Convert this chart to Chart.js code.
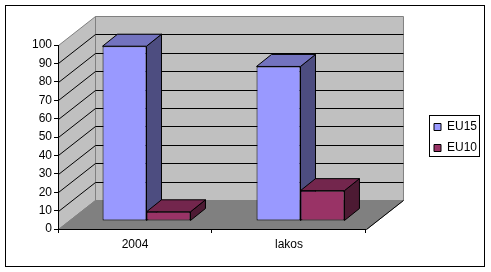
<!DOCTYPE html>
<html>
<head>
<meta charset="utf-8">
<style>
  html, body { margin: 0; padding: 0; background: #fff; }
  #wrap { position: relative; width: 491px; height: 272px; }
</style>
<script src="https://cdn.jsdelivr.net/npm/chart.js@4"></script>
</head>
<body>
<div id="wrap"><canvas id="chart" width="491" height="272"></canvas></div>
<script>
const categories = ['2004', 'lakos'];
const eu15 = [95, 84];
const eu10 = [5, 16.5];
const yTicks = [0, 10, 20, 30, 40, 50, 60, 70, 80, 90, 100];

// 3d look: depth of the box and of the bars, in pixels
const depthX = 37, depthY = 29;
const barShiftX = 11.5, barShiftY = 8;
const barDepthX = 15, barDepthY = 12;

const palette = [
  { front: '#9999ff', top: '#7373bf', side: '#4d4d80' },
  { front: '#993366', top: '#73264d', side: '#4d1a33' }
];

function poly(ctx, pts, fill, stroke) {
  ctx.beginPath();
  pts.forEach((p, i) => i ? ctx.lineTo(p[0], p[1]) : ctx.moveTo(p[0], p[1]));
  ctx.closePath();
  if (fill) { ctx.fillStyle = fill; ctx.fill(); }
  if (stroke) { ctx.strokeStyle = stroke; ctx.lineWidth = 1; ctx.stroke(); }
}

const box3d = {
  id: 'box3d',
  beforeDraw(chart) {
    const ctx = chart.ctx, a = chart.chartArea, y = chart.scales.y;
    ctx.save();
    ctx.fillStyle = '#fff';
    ctx.fillRect(0, 0, chart.width, chart.height);
    ctx.strokeStyle = '#000';
    ctx.lineWidth = 1;
    ctx.strokeRect(5.5, 5.5, 479, 261);

    const L = a.left + 0.5, R = a.right + 0.5, T = a.top + 0.5, B = a.bottom + 0.5;
    // walls and floor
    poly(ctx, [[L + depthX, T - depthY], [R + depthX, T - depthY], [R + depthX, B - depthY], [L + depthX, B - depthY]], '#c0c0c0', '#808080');
    poly(ctx, [[L, T], [L + depthX, T - depthY], [L + depthX, B - depthY], [L, B]], '#c0c0c0', '#808080');
    poly(ctx, [[L, B], [L + depthX, B - depthY], [R + depthX, B - depthY], [R, B]], '#808080', '#808080');
    ctx.beginPath();
    ctx.moveTo(R, B);
    ctx.lineTo(R + depthX, B - depthY);
    ctx.strokeStyle = '#000';
    ctx.stroke();

    // grid lines run along the side wall and then across the back wall
    yTicks.forEach(v => {
      if (v === 0 || v === 100) return;
      const py = Math.round(y.getPixelForValue(v)) + 0.5;
      ctx.beginPath();
      ctx.moveTo(L, py);
      ctx.lineTo(L + depthX, py - depthY);
      ctx.lineTo(R + depthX, py - depthY);
      ctx.strokeStyle = '#000';
      ctx.stroke();
    });
    ctx.restore();
  },
  beforeDatasetsDraw(chart) {
    // first series first, so the second one overlaps its side face
    const ctx = chart.ctx;
    chart.data.datasets.forEach((ds, i) => {
      const meta = chart.getDatasetMeta(i), colors = palette[i];
      ctx.save();
      ctx.translate(barShiftX, -barShiftY);
      meta.data.forEach(bar => {
        const l = bar.x - bar.width / 2, r = bar.x + bar.width / 2;
        const t = bar.y, b = bar.base;
        poly(ctx, [[r, t], [r + barDepthX, t - barDepthY], [r + barDepthX, b - barDepthY], [r, b]], colors.side, '#000');
        poly(ctx, [[l, t], [l + barDepthX, t - barDepthY], [r + barDepthX, t - barDepthY], [r, t]], colors.top, '#000');
      });
      meta.controller.draw();
      ctx.restore();
    });
    return false;
  },
  afterLayout(chart) {
    // move the legend to its framed spot right of the plot; bottom stays roomy so it keeps one column
    const lg = chart.legend;
    lg.left = 425; lg.right = 484; lg.top = 112; lg.bottom = 272;
  },
  afterDraw(chart) {
    const ctx = chart.ctx;
    ctx.save();
    ctx.strokeStyle = '#000';
    ctx.lineWidth = 1;
    ctx.strokeRect(429.5, 115.5, 50, 41);
    ctx.restore();
  }
};

const font = { family: '"Liberation Sans", Arial, sans-serif', size: 12 };

new Chart(document.getElementById('chart'), {
  type: 'bar',
  data: {
    labels: categories,
    datasets: [
      { label: 'EU15', data: eu15, backgroundColor: palette[0].front, borderColor: '#000', borderWidth: 1, borderSkipped: false },
      { label: 'EU10', data: eu10, backgroundColor: palette[1].front, borderColor: '#000', borderWidth: 1, borderSkipped: false }
    ]
  },
  options: {
    responsive: false,
    animation: false,
    events: [],
    layout: { padding: { top: 45, left: 0, right: 63, bottom: 0 } },
    categoryPercentage: 0.571,
    barPercentage: 1,
    plugins: {
      tooltip: { enabled: false },
      legend: {
        position: 'right',
        align: 'start',
        labels: { boxWidth: 7, boxHeight: 7, padding: 9, color: '#000', font }
      }
    },
    scales: {
      x: {
        grid: { drawOnChartArea: false, color: '#000', tickLength: 4 },
        border: { color: '#000' },
        ticks: { color: '#000', font, padding: 4, maxRotation: 0 },
        afterFit(s) { s.height = 43; }
      },
      y: {
        min: 0, max: 100,
        grid: { drawOnChartArea: false, color: '#000', tickLength: 4 },
        border: { color: '#000' },
        ticks: { color: '#000', font, padding: 2, stepSize: 10 },
        afterFit(s) { s.width = 58; }
      }
    }
  },
  plugins: [box3d]
});
</script>
</body>
</html>
